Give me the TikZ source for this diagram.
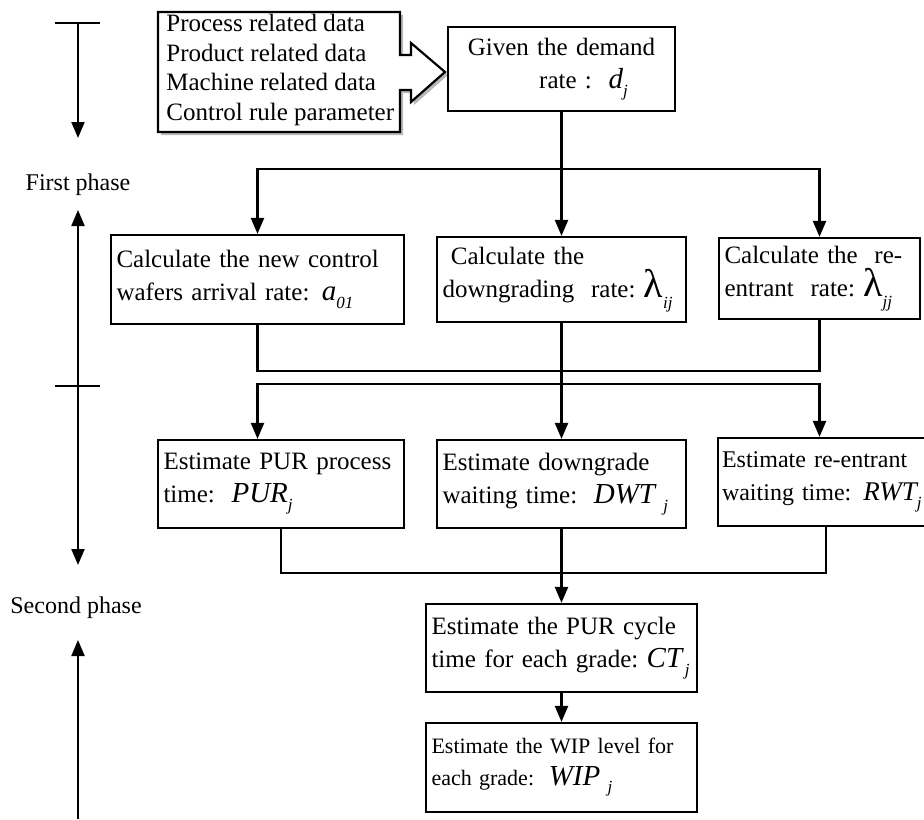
\documentclass[tikz,border=0pt]{standalone}
\usepackage{fontspec}
\setmainfont{Liberation Serif}
\usetikzlibrary{arrows.meta}
\newcommand{\grandeur}[3][14.5]{{\fontsize{#1}{#1}\selectfont\itshape #2}\raisebox{-0.7ex}{\fontsize{8.5}{8.5}\selectfont\itshape #3}}
\newcommand{\lambdaval}[1]{{\fontsize{20}{20}\selectfont λ}\raisebox{-0.9ex}{\fontsize{8.5}{8.5}\selectfont\itshape #1}}

\begin{document}
\begin{tikzpicture}[x=0.5pt,y=-0.5pt,
  trait/.style={line width=1.1pt},
  fleche/.style={trait,-{Triangle[length=8pt,width=6.5pt]}},
  boite/.style={draw,trait,fill=white,inner xsep=2.75pt,inner ysep=2pt,align=left,font=\fontsize{12.5}{16.5}\selectfont},
  etiquette/.style={font=\fontsize{12}{14}\selectfont}]
  \useasboundingbox (0,0) rectangle (924,819);

  % Donnees d'entree
  \draw[trait,fill=white,preaction={fill=gray!55,transform canvas={shift={(1.5pt,-1.5pt)}}}]
    (158,12) -- (400,12) -- (400,55) -- (411,55) -- (411,43) -- (445,72)
    -- (411,102) -- (411,90) -- (400,90) -- (400,132) -- (158,132) -- cycle;
  \node[anchor=west,align=left,inner sep=0pt,font=\fontsize{12.5}{14.75}\selectfont] (entrees) at (166,70)
    {Process related data\\Product related data\\Machine related data\\Control rule parameter};

  % Premiere phase
  \node[boite,align=center,text width=108pt,minimum height=42pt] (donne) at (561.5,69)
    {Given the demand\\\hspace*{22pt}rate :\ \ \grandeur{d}{j}};
  \node[boite,text width=141pt,minimum height=44.5pt] (calc1) at (257.5,279.5)
    {Calculate the new control\\wafers arrival rate: \grandeur{a}{01}};
  \node[boite,text width=119pt,minimum height=42.5pt] (calc2) at (561.5,279.5)
    {\ Calculate the\\downgrading\ \ rate:\ \lambdaval{ij}};
  \node[boite,text width=95pt,minimum height=40.5pt] (calc3) at (819.5,278.5)
    {Calculate the\ \ re-\\entrant\ \ rate:\ \lambdaval{jj}};

  % Seconde phase
  \node[boite,text width=117.5pt,minimum height=44pt] (est1) at (281,484)
    {Estimate PUR process\\time:\ \ \grandeur{PUR}{j}};
  \node[boite,text width=119pt,minimum height=44pt] (est2) at (561.5,484)
    {Estimate downgrade\\waiting time:\ \ \grandeur{DWT}{\ j}};
  \node[boite,text width=106pt,minimum height=44pt,inner xsep=2pt,font=\fontsize{12}{16.5}\selectfont] (est3) at (828,482)
    {Estimate re-entrant\\waiting time: \grandeur[13.5]{RWT}{j}};
  \node[boite,text width=130pt,minimum height=44pt] (tempscycle) at (561.5,648)
    {Estimate the PUR cycle\\time for each grade:\ \grandeur{CT}{\,j}};
  \node[boite,text width=130pt,minimum height=44.5pt,font=\fontsize{11}{16}\selectfont] (wip) at (561.5,767.5)
    {Estimate the WIP level for\\each grade:\ \ \grandeur{WIP}{\ j}};

  % Liaisons
  \coordinate (rep1) at (561.5,169);
  \draw[trait] (donne.south) -- (rep1);
  \draw[fleche] (rep1) -- (calc2.north);
  \draw[fleche] (rep1) -| (calc1.north);
  \draw[fleche] (rep1) -| (calc3.north);

  \coordinate (coll1) at (561.5,371);
  \coordinate (rep2) at (561.5,384);
  \draw[trait] (calc1.south) |- (coll1) -| (calc3.south);
  \draw[trait] (calc2.south) -- (rep2);
  \draw[fleche] (rep2) -| (calc1.south |- est1.north);
  \draw[fleche] (rep2) -- (est2.north);
  \draw[fleche] (rep2) -| (calc3.south |- est3.north);

  \coordinate (coll2) at (561.5,573);
  \draw[trait] (est1.south) |- (coll2) -| ([xshift=-1pt]est3.south);
  \draw[fleche] (est2.south) -- (tempscycle.north);
  \draw[fleche] (tempscycle.south) -- (wip.north);

  % Axe des phases
  \coordinate (t1) at (78,23);
  \coordinate (t2) at (78,386);
  \coordinate (bas) at (78,819);
  \draw[trait] (t1) ++(-23,0) -- ++(45,0);
  \draw[trait] (t2) ++(-23,0) -- ++(45,0);
  \node[etiquette] (phase1) at (78,185) {First phase};
  \node[etiquette] (phase2) at (76,608) {Second phase};
  \draw[fleche] (t1) -- ++(0,115);
  \draw[fleche] (t2) -- ++(0,-176);
  \draw[fleche] (t2) -- ++(0,179);
  \draw[fleche] (bas) -- ++(0,-179);
\end{tikzpicture}
\end{document}
